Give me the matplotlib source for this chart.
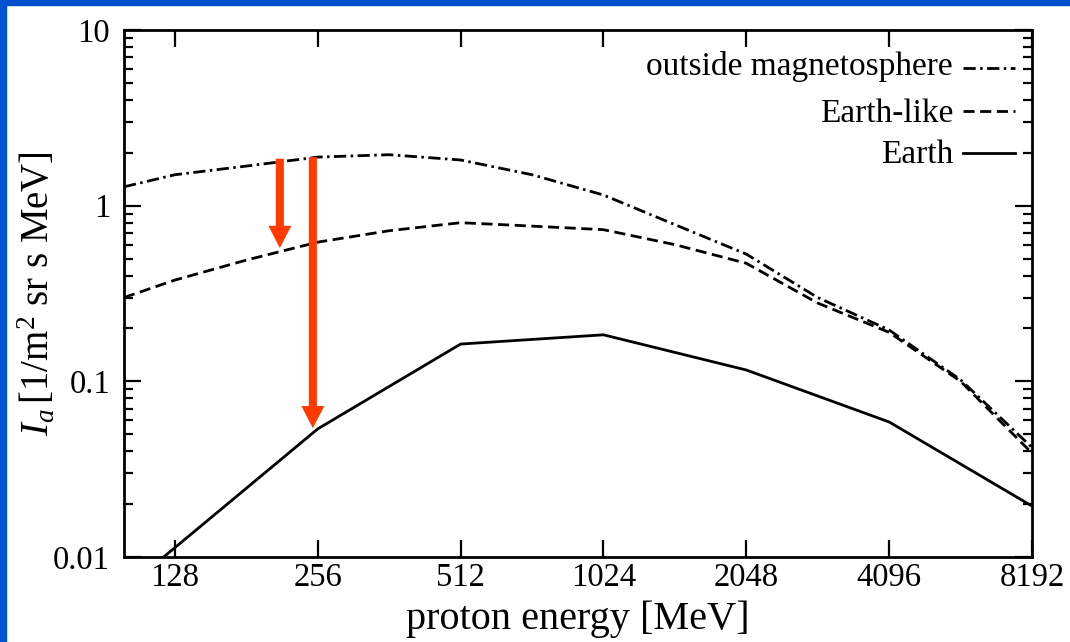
import numpy as np
import matplotlib
matplotlib.use('Agg')
import matplotlib.pyplot as plt
from matplotlib.patches import FancyArrowPatch, Rectangle
from matplotlib.lines import Line2D

plt.rcParams['font.family'] = ['Liberation Serif', 'DejaVu Serif']
plt.rcParams['mathtext.fontset'] = 'custom'
plt.rcParams['mathtext.rm'] = 'Liberation Serif'
plt.rcParams['mathtext.it'] = 'Liberation Serif:italic'

# Data (proton energy in MeV, intensity)
energy_smooth = [100, 128, 181, 256, 362, 512, 724, 1024, 1448, 2048, 2896, 4096, 5793, 8192]
outside_vals = [1.28, 1.50, 1.68, 1.89, 1.95, 1.82, 1.50, 1.15, 0.78, 0.53, 0.30, 0.196, 0.102, 0.042]
earthlike_vals = [0.30, 0.377, 0.49, 0.62, 0.72, 0.80, 0.765, 0.73, 0.60, 0.47, 0.279, 0.19, 0.10, 0.039]

energy_earth = [100, 128, 256, 512, 1024, 2048, 4096, 8192]
earth_vals = [0.0065, 0.0113, 0.0536, 0.163, 0.184, 0.116, 0.0587, 0.0195]

xticks = [128, 256, 512, 1024, 2048, 4096, 8192]
yticks = [0.01, 0.1, 1, 10]
ytick_labels = ['0.01', '0.1', '1', '10']

series_labels = ['outside magnetosphere', 'Earth-like', 'Earth']

# red arrows: (energy, start, end)
arrows = [(213, 1.85, 0.574), (250, 1.89, 0.0541)]
RED = '#ff3a00'

fig = plt.figure(figsize=(10.7, 6.42), dpi=100)
fig.patch.set_facecolor('white')
# blue slide frame on top and left
fig.patches.append(Rectangle((0, 1 - 5 / 642), 1, 5 / 642, transform=fig.transFigure,
                             color='#0050cc', zorder=0))
fig.patches.append(Rectangle((0, 0), 6 / 1070, 1, transform=fig.transFigure,
                             color='#0052d4', zorder=0))

ax = fig.add_axes([124 / 1070, 1 - 557 / 642, (1032 - 124) / 1070, (557 - 30) / 642])

lw = 2.0
dashdot = (0, (4.4, 1.6, 0.9, 1.6))
dashed = (0, (4.0, 2.0))
ax.plot(energy_smooth, outside_vals, color='black', lw=lw, linestyle=dashdot)
ax.plot(energy_smooth, earthlike_vals, color='black', lw=lw, linestyle=dashed)
ax.plot(energy_earth, earth_vals, color='black', lw=lw, linestyle='-')

ax.set_xscale('log', base=2)
ax.set_yscale('log')
ax.set_xlim(100, 8192)
ax.set_ylim(0.01, 10)

ax.set_xticks(xticks)
ax.set_xticklabels([str(t) for t in xticks])
ax.xaxis.set_minor_locator(matplotlib.ticker.NullLocator())
ax.set_yticks(yticks)
ax.set_yticklabels(ytick_labels)

ax.tick_params(axis='both', which='major', direction='in', length=12.5, width=1.6,
               top=True, right=True, labelsize=23.5)
ax.tick_params(axis='y', which='minor', direction='in', length=6.5, width=1.6,
               right=True, left=True)
ax.tick_params(axis='y', which='major', pad=10)
ax.tick_params(axis='x', which='major', pad=4)
for s in ax.spines.values():
    s.set_linewidth(2.0)

for x, y0, y1 in arrows:
    ax.add_patch(FancyArrowPatch((x, y0), (x, y1),
                                 arrowstyle='simple,head_length=16,head_width=16.5,tail_width=5.8',
                                 mutation_scale=1, shrinkA=0, shrinkB=0,
                                 color=RED, lw=0, zorder=5))

ax.set_xlabel('proton energy [MeV]', fontsize=29)
ax.xaxis.set_label_coords(0.5, -0.082)
ax.set_ylabel(r'$I_a\,$[1/m$^2$ sr s MeV]', fontsize=28)
ax.yaxis.set_label_coords(-0.072, 0.5)

# legend drawn by hand: text right-aligned, line sample to its right
styles = [dashdot, dashed, '-']
text_y = [0.915, 0.825, 0.748]
line_y = [0.928, 0.846, 0.767]
for lab, st, ty, ly in zip(series_labels, styles, text_y, line_y):
    ax.text(0.913, ty, lab, transform=ax.transAxes, ha='right', va='baseline', fontsize=24)
    ax.add_line(Line2D([0.924, 0.981], [ly, ly], transform=ax.transAxes,
                       color='black', lw=lw, linestyle=st))

fig.savefig('out.png', dpi=100)
